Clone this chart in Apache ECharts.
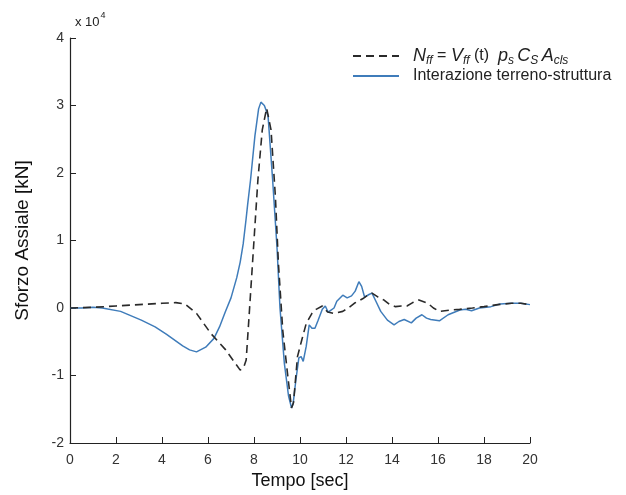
<!DOCTYPE html>
<html>
<head>
<meta charset="utf-8">
<script src="https://cdn.jsdelivr.net/npm/echarts@6/dist/echarts.min.js"></script>
<style>html,body{margin:0;padding:0;background:#fff}#c{width:626px;height:495px}</style>
</head>
<body>
<div id="c"></div>
<script>
// values in units of 10^4 kN
var tFree = [0,1,2,3,4,4.6,5.0,5.5,6.13,6.77,7.1,7.4,7.55,7.66,7.79,7.98,8.17,8.36,8.55,8.74,8.93,9.06,9.25,9.44,9.63,9.72,9.89,10.08,10.27,10.52,10.7,10.97,11.2,11.48,11.86,12.1,12.36,12.74,12.9,13.13,13.4,13.64,13.9,14.15,14.4,14.65,14.9,15.17,15.56,15.8,16.06,16.3,16.56,16.94,17.5,18,18.6,19.2,19.6,20];
var yFree = [0,0.01,0.03,0.05,0.07,0.08,0.06,-0.08,-0.38,-0.62,-0.78,-0.92,-0.88,-0.77,-0.1,0.9,1.9,2.64,2.96,2.64,1.65,0.67,-0.33,-0.92,-1.48,-1.4,-0.72,-0.47,-0.23,-0.08,-0.02,0.03,-0.06,-0.08,-0.05,0.0,0.07,0.14,0.18,0.22,0.16,0.12,0.05,0.02,0.03,0.03,0.08,0.12,0.07,0.0,-0.05,-0.04,-0.03,-0.02,0.0,0.02,0.05,0.07,0.07,0.05];
var tInt = [0,0.5,1.0,1.4,2.2,3.1,3.7,4.2,4.9,5.2,5.5,5.9,6.26,6.5,6.75,7.0,7.25,7.4,7.53,7.65,7.72,7.85,8.04,8.2,8.3,8.45,8.61,8.81,9.0,9.13,9.32,9.5,9.63,9.7,9.82,9.95,10.05,10.14,10.27,10.4,10.52,10.65,10.78,10.97,11.1,11.22,11.35,11.48,11.6,11.86,12.05,12.24,12.4,12.56,12.68,12.81,13.0,13.13,13.3,13.51,13.8,14.09,14.3,14.53,14.84,15.05,15.3,15.5,15.68,16.06,16.44,16.95,17.2,17.46,17.8,18.3,18.7,19.2,19.6,20];
var yInt = [0,0.0,0.01,0.0,-0.05,-0.18,-0.28,-0.39,-0.56,-0.62,-0.65,-0.58,-0.45,-0.28,-0.06,0.15,0.45,0.68,0.95,1.3,1.52,1.9,2.55,2.95,3.05,3.0,2.85,1.9,0.9,0.0,-0.82,-1.3,-1.48,-1.42,-1.07,-0.74,-0.72,-0.79,-0.57,-0.25,-0.3,-0.3,-0.19,-0.02,0.03,-0.06,-0.03,0.0,0.1,0.19,0.15,0.18,0.25,0.39,0.32,0.16,0.2,0.22,0.1,-0.05,-0.18,-0.25,-0.2,-0.17,-0.22,-0.15,-0.1,-0.15,-0.17,-0.19,-0.1,-0.03,-0.02,-0.04,0.0,0.02,0.06,0.07,0.07,0.05];
var xTicks = [0,2,4,6,8,10,12,14,16,18,20];
var yTicks = [-2,-1,0,1,2,3,4];
var nameFree = 'Nff';
var nameInt = 'Interazione terreno-struttura';

function pairs(t, y) { return t.map(function (v, i) { return [v, y[i]]; }); }

var FONT = 'Liberation Sans';
var BLUE = '#3f7cba';
var DARK = '#2a2a2a';
var chart = echarts.init(document.getElementById('c'), null, {renderer: 'canvas'});
chart.setOption({
  animation: false,
  backgroundColor: '#fff',
  textStyle: {fontFamily: FONT},
  grid: {left: 70, right: 96, top: 38, bottom: 52},
  legend: {
    orient: 'vertical', left: 352, top: 46, padding: 0, itemWidth: 46, itemHeight: 12, itemGap: 1,
    itemStyle: {opacity: 0},
    data: [nameFree, nameInt],
    formatter: function (n) {
      if (n === nameFree) {
        return '{i|N}{s|ff}{r| = }{i|V}{s|ff}{r| (t)  }{i|p}{s|s }{i|C}{s|S }{i|A}{s|cls}';
      }
      return '{r|' + n + '}';
    },
    textStyle: {
      fontFamily: FONT, color: '#222', padding: [0, 0, 0, 9],
      rich: {
        r: {fontSize: 16, fontFamily: FONT, color: '#222', lineHeight: 22, verticalAlign: 'middle'},
        i: {fontSize: 18, fontFamily: FONT, fontStyle: 'italic', color: '#222', lineHeight: 22, verticalAlign: 'middle'},
        s: {fontSize: 12, fontFamily: FONT, fontStyle: 'italic', color: '#222', lineHeight: 22, verticalAlign: 'bottom', padding: [9, 0, 0, 0]}
      }
    }
  },
  graphic: [{
    type: 'text', left: 75, top: 11,
    style: {
      text: '{a|x 10}{b|4}', fill: '#222',
      rich: {a: {fontSize: 13, fontFamily: FONT, verticalAlign: 'bottom', lineHeight: 18}, b: {fontSize: 9, fontFamily: FONT, verticalAlign: 'top', lineHeight: 18, padding: [0, 0, 6, 1]}}
    }
  }],
  xAxis: {
    type: 'value', min: 0, max: 20, interval: 2,
    name: 'Tempo [sec]', nameLocation: 'middle', nameGap: 26,
    nameTextStyle: {fontSize: 18, fontFamily: FONT, color: '#111'},
    axisLine: {onZero: false, lineStyle: {color: '#222', width: 1.2}},
    axisTick: {inside: true, length: 6, lineStyle: {color: '#222'}},
    splitLine: {show: false},
    axisLabel: {fontSize: 14, color: '#333', margin: 10,
      formatter: function (v) { return xTicks.indexOf(v) >= 0 ? String(v) : ''; }}
  },
  yAxis: {
    type: 'value', min: -2, max: 4, interval: 1,
    name: 'Sforzo Assiale [kN]', nameLocation: 'middle', nameGap: 38, nameRotate: 90,
    nameTextStyle: {fontSize: 19, fontFamily: FONT, color: '#111'},
    axisLine: {show: true, onZero: false, lineStyle: {color: '#222', width: 1.2}},
    axisTick: {show: true, inside: true, length: 6, lineStyle: {color: '#222'}},
    splitLine: {show: false},
    axisLabel: {fontSize: 14, color: '#333', margin: 6,
      formatter: function (v) { return yTicks.indexOf(v) >= 0 ? String(v) : ''; }}
  },
  series: [
    {name: nameFree, type: 'line', data: pairs(tFree, yFree), symbol: 'none', z: 3,
      lineStyle: {color: DARK, width: 1.6, type: [8, 5]}, itemStyle: {color: DARK}},
    {name: nameInt, type: 'line', data: pairs(tInt, yInt), symbol: 'none', z: 2,
      lineStyle: {color: BLUE, width: 1.5}, itemStyle: {color: BLUE}}
  ]
});
</script>
</body>
</html>
